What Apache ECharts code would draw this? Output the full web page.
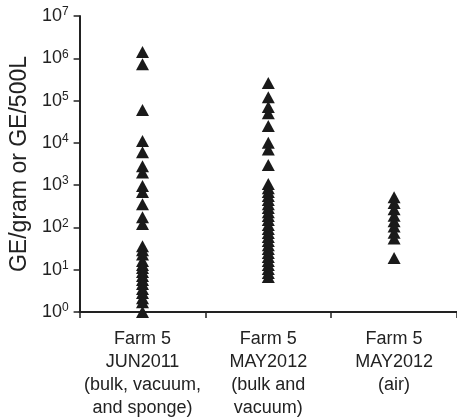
<!DOCTYPE html>
<html>
<head>
<meta charset="utf-8">
<script src="https://cdn.jsdelivr.net/npm/echarts@6/dist/echarts.min.js"></script>
<style>html,body{margin:0;padding:0;background:#fff;}#c{width:457px;height:420px;}</style>
</head>
<body>
<div id="c"></div>
<script>
var categories = [
  "Farm 5\nJUN2011\n(bulk, vacuum,\nand sponge)",
  "Farm 5\nMAY2012\n(bulk and\nvacuum)",
  "Farm 5\nMAY2012\n(air)"
];
var jun2011 = [1400000, 720000, 60000, 11000, 6000, 2800, 2000, 950, 690, 355, 175, 120,
  36, 29, 23, 16, 13, 11, 8.8, 7.1, 5.7, 4.6, 3.5, 2.8, 2.1, 1.7, 1];
var may2012BulkVacuum = [260000, 120000, 70000, 50000, 25000, 10000, 7000, 3000,
  1070, 850, 690, 550, 445, 355, 290, 230, 186, 149, 114, 92, 74, 59, 48, 38, 31, 25, 20, 16, 13, 10.4, 8.4, 6.7];
var may2012Air = [520, 380, 270, 190, 140, 105, 75, 55, 19];
var yTickExponents = [0, 1, 2, 3, 4, 5, 6, 7];

function pts(arr, idx) { return arr.map(function (v) { return [idx, v]; }); }
var allPts = pts(jun2011, 0).concat(pts(may2012BulkVacuum, 1), pts(may2012Air, 2));

var chart = echarts.init(document.getElementById('c'), null, {renderer: 'canvas'});
var font = 'Liberation Sans, Arial, sans-serif';
chart.setOption({
  animation: false,
  backgroundColor: '#fff',
  grid: {left: 77, right: -6, top: 16, bottom: 108, containLabel: false},
  xAxis: {
    type: 'category',
    data: categories,
    boundaryGap: true,
    axisLine: {lineStyle: {color: '#222', width: 2}},
    axisTick: {show: true, length: 6, inside: false, lineStyle: {color: '#222', width: 1.5}},
    axisLabel: {color: '#222', fontSize: 18, fontFamily: font, lineHeight: 23, margin: 16, interval: 0}
  },
  yAxis: {
    type: 'log',
    logBase: 10,
    min: 1,
    max: 10000000,
    name: 'GE/gram or GE/500L',
    nameLocation: 'middle',
    nameGap: 48,
    nameTextStyle: {color: '#222', fontSize: 23, fontFamily: font},
    splitLine: {show: false},
    minorTick: {show: false},
    axisLine: {show: true, lineStyle: {color: '#222', width: 2}},
    axisTick: {show: true, length: 6, lineStyle: {color: '#222', width: 1.5}},
    axisLabel: {
      color: '#222', fontFamily: font, margin: 11,
      formatter: function (v) {
        var e = Math.round(Math.log10(v));
        if (yTickExponents.indexOf(e) < 0) return '';
        return '{b|10}{s|' + e + '}';
      },
      rich: {
        b: {fontSize: 18, fontFamily: font, color: '#222', lineHeight: 20},
        s: {fontSize: 12, fontFamily: font, color: '#222', verticalAlign: 'top', lineHeight: 20, padding: [0, 0, 8, 0]}
      }
    }
  },
  series: [{
    type: 'scatter',
    data: allPts,
    symbol: 'triangle',
    symbolSize: [13, 12],
    itemStyle: {color: '#1a1a1a', opacity: 1}
  }]
});
</script>
</body>
</html>
